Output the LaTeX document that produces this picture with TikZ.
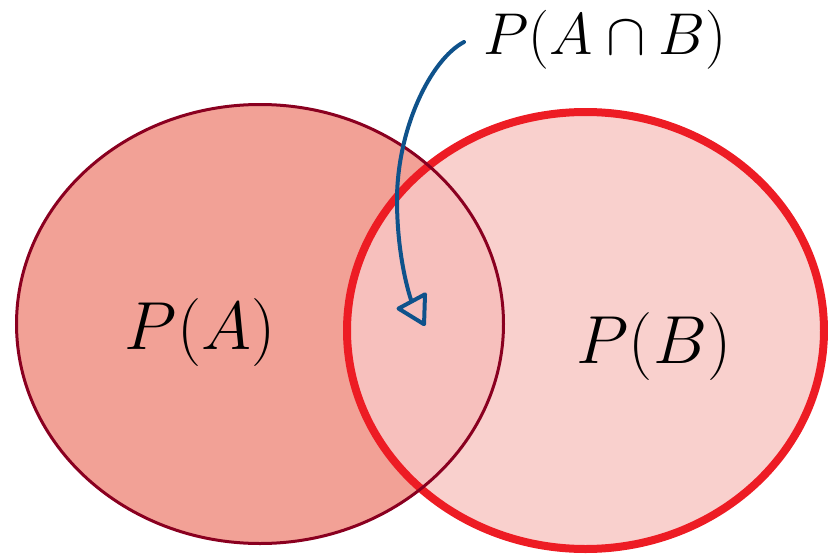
\RequirePackage{fix-cm}
\documentclass[tikz,border=0pt]{standalone}
\usetikzlibrary{arrows.meta}
\definecolor{afill}{HTML}{F2A196}
\definecolor{bfill}{HTML}{F9D0CD}
\definecolor{abfill}{HTML}{F7C0BD}
\definecolor{aline}{HTML}{8A0020}
\definecolor{bline}{HTML}{ED1C24}
\definecolor{arrowblue}{HTML}{0F528B}
\begin{document}
\begin{tikzpicture}[x=1pt,y=-1pt,
  labelbig/.style={inner sep=0pt, anchor=base, font=\fontsize{68}{72}\selectfont},
  labeltop/.style={inner sep=0pt, anchor=base, font=\fontsize{59}{64}\selectfont},
  pointer/.style={draw=arrowblue, line width=4pt, line cap=round, line join=round,
    -{Triangle[open, length=32pt, width=36pt, line join=round]}}]
\useasboundingbox (0,0) rectangle (828,554);
% fills
\fill[afill] (260,324) ellipse [x radius=243.5, y radius=219.5];
\fill[bfill] (585.5,330.5) ellipse [x radius=238.5, y radius=218.5];
\begin{scope}
  \clip (260,324) ellipse [x radius=243.5, y radius=219.5];
  \fill[abfill] (585.5,330.5) ellipse [x radius=238.5, y radius=218.5];
\end{scope}
% borders
\draw[bline, line width=8pt] (585.5,330.5) ellipse [x radius=238.5, y radius=218.5];
\draw[aline, line width=3pt] (260,324) ellipse [x radius=243.5, y radius=219.5];
% labels
\node[labelbig] (pa) at (200,349) {$P(A)$};
\node[labelbig] (pb) at (654,363) {$P(B)$};
\node[labeltop] (pab) at (605,54) {$P(A\cap B)$};
% pointer
\coordinate (start) at (464,42);
\coordinate (mid) at (397,200);
\coordinate (tip) at (425,326);
\draw[pointer] (start) .. controls (430,60) and (397,130) .. (mid)
  .. controls (397,260) and (411,300) .. (tip);
\end{tikzpicture}
\end{document}
